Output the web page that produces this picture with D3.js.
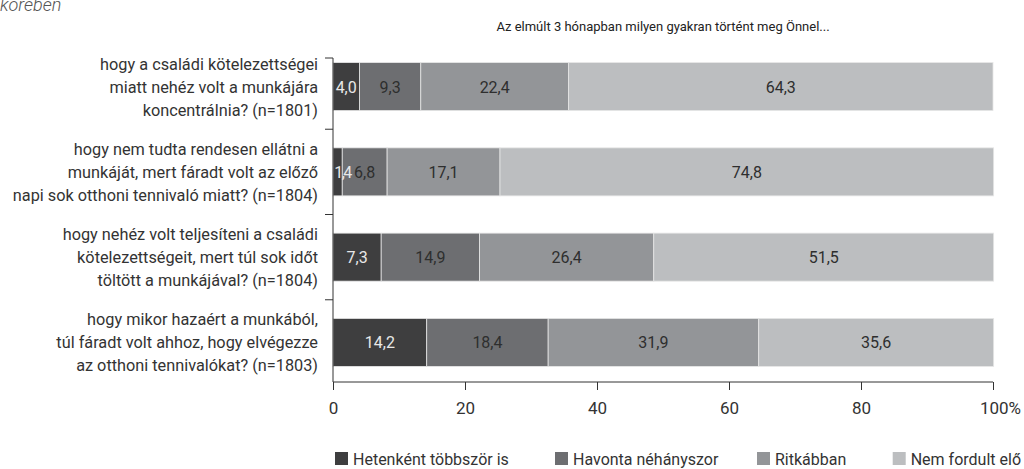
<!DOCTYPE html>
<html>
<head>
<meta charset="utf-8">
<script src="https://d3js.org/d3.v7.min.js"></script>
<style>
  body { margin: 0; background: #fff; }
  svg text { font-family: Roboto, sans-serif; }
</style>
</head>
<body>
<div id="vis"></div>
<script>
// data
var questions = [
  ["hogy a családi kötelezettségei", "miatt nehéz volt a munkájára", "koncentrálnia? (n=1801)"],
  ["hogy nem tudta rendesen ellátni a", "munkáját, mert fáradt volt az előző", "napi sok otthoni tennivaló miatt? (n=1804)"],
  ["hogy nehéz volt teljesíteni a családi", "kötelezettségeit, mert túl sok időt", "töltött a munkájával? (n=1804)"],
  ["hogy mikor hazaért a munkából,", "túl fáradt volt ahhoz, hogy elvégezze", "az otthoni tennivalókat? (n=1803)"]
];
var series = ["Hetenként többször is", "Havonta néhányszor", "Ritkábban", "Nem fordult elő"];
var weekly  = [4.0, 1.4, 7.3, 14.2];
var monthly = [9.3, 6.8, 14.9, 18.4];
var rarely  = [22.4, 17.1, 26.4, 31.9];
var never   = [64.3, 74.8, 51.5, 35.6];
var xTicks = [0, 20, 40, 60, 80, 100];
var title = "Az elmúlt 3 hónapban milyen gyakran történt meg Önnel...";

var colors = ["#3e3e3f", "#6d6e71", "#939598", "#bcbec0"];
var labelColors = ["#e8e8e8", "#2e2e2e", "#2e2e2e", "#2e2e2e"];

var W = 1024, H = 469;
var svg = d3.select("#vis").append("svg").attr("width", W).attr("height", H);

var x = d3.scaleLinear().domain([0, 100]).range([333, 993]);
var y = d3.scaleBand().domain(d3.range(questions.length)).range([44, 385])
  .paddingInner(0.437).paddingOuter(0.218);
var color = d3.scaleOrdinal().domain(series).range(colors);

var rows = questions.map(function(q, i) {
  var vals = [weekly[i], monthly[i], rarely[i], never[i]];
  var cum = 0;
  return vals.map(function(v, k) {
    var s = {i: i, k: k, v: v, x0: cum, x1: cum + v};
    cum += v;
    return s;
  });
});
var segs = d3.merge(rows);

// cropped subtitle at the very top (cut off in the original too)
svg.append("text").attr("x", 0).attr("y", 11)
  .style("font-weight", 300)
  .style("font-style", "italic").style("font-size", "18px").style("fill", "#555")
  .text("körében");

svg.append("text").attr("x", 663).attr("y", 31)
  .attr("text-anchor", "middle").style("font-size", "13px").style("fill", "#222")
  .text(title);

// bars
svg.append("g").selectAll("rect").data(segs).enter().append("rect")
  .attr("x", function(d) { return x(d.x0); })
  .attr("y", function(d) { return y(d.i); })
  .attr("width", function(d) { return x(d.x1) - x(d.x0); })
  .attr("height", y.bandwidth())
  .attr("fill", function(d) { return color(series[d.k]); })
  .attr("stroke", "#e6e6e6").attr("stroke-width", 0.8);

// value labels; narrow segments get their label pushed inside the plot
svg.append("g").selectAll("text").data(segs).enter().append("text")
  .attr("x", function(d) { return Math.max((x(d.x0) + x(d.x1)) / 2, x(0) + 9.5); })
  .attr("y", function(d) { return y(d.i) + y.bandwidth() / 2 + 6; })
  .attr("text-anchor", "middle").style("font-size", "16px")
  .style("letter-spacing", function(d) { return d.v < 3 ? "-1.5px" : null; })
  .style("fill", function(d) { return labelColors[d.k]; })
  .text(function(d) { return d3.format(".1f")(d.v).replace(".", ","); });

// category labels
questions.forEach(function(lines, i) {
  var cy = y(i) + y.bandwidth() / 2;
  var t = svg.append("text").attr("text-anchor", "end")
    .style("font-size", "16.3px").style("fill", "#333");
  lines.forEach(function(l, j) {
    t.append("tspan").attr("x", 318).attr("y", cy + (j - 1) * 23 + 6).text(l);
  });
});

// y axis
var axisColor = "#333";
var bottom = 382;
svg.append("line").attr("x1", x(0)).attr("x2", x(0)).attr("y1", 58).attr("y2", bottom)
  .attr("stroke", axisColor).attr("stroke-width", 1);
svg.append("line").attr("x1", x(0) - 8).attr("x2", x(0)).attr("y1", 58).attr("y2", 58)
  .attr("stroke", axisColor);
d3.range(1, questions.length).forEach(function(i) {
  var yy = y(i) - y.step() * y.paddingInner() / 2;
  svg.append("line").attr("x1", x(0) - 8).attr("x2", x(0)).attr("y1", yy).attr("y2", yy)
    .attr("stroke", axisColor);
});

// x axis
var xAxis = svg.append("g").attr("transform", "translate(0," + bottom + ")")
  .call(d3.axisBottom(x).tickValues(xTicks).tickSize(8).tickPadding(12)
    .tickFormat(function(d) { return d === 100 ? "100%" : d; }));
xAxis.select(".domain").attr("stroke", axisColor).attr("d", "M" + x(0) + ",0H" + x(100));
xAxis.selectAll(".tick line").attr("stroke", axisColor);
xAxis.selectAll(".tick text").style("font-size", "17px").style("fill", "#333")
  .style("font-family", "Roboto, sans-serif");
xAxis.selectAll(".tick").filter(function(d) { return d === 100; }).select("text")
  .attr("dx", 7);

// legend: first three at fixed spots, last one pushed against the right edge
var legendX = [335, 555, 757];
var legend = svg.selectAll(".leg").data(series).enter().append("g");
legend.append("rect").attr("width", 13).attr("height", 13)
  .attr("fill", function(d) { return color(d); });
legend.append("text").attr("x", 18).attr("y", 13)
  .style("font-size", "16px").style("fill", "#333").text(function(d) { return d; });
legend.attr("transform", function(d, i) {
  var lx = legendX[i];
  if (lx === undefined) {
    lx = W - 3 - 18 - this.querySelector("text").getComputedTextLength();
  }
  return "translate(" + lx + ",452)";
});
</script>
</body>
</html>
